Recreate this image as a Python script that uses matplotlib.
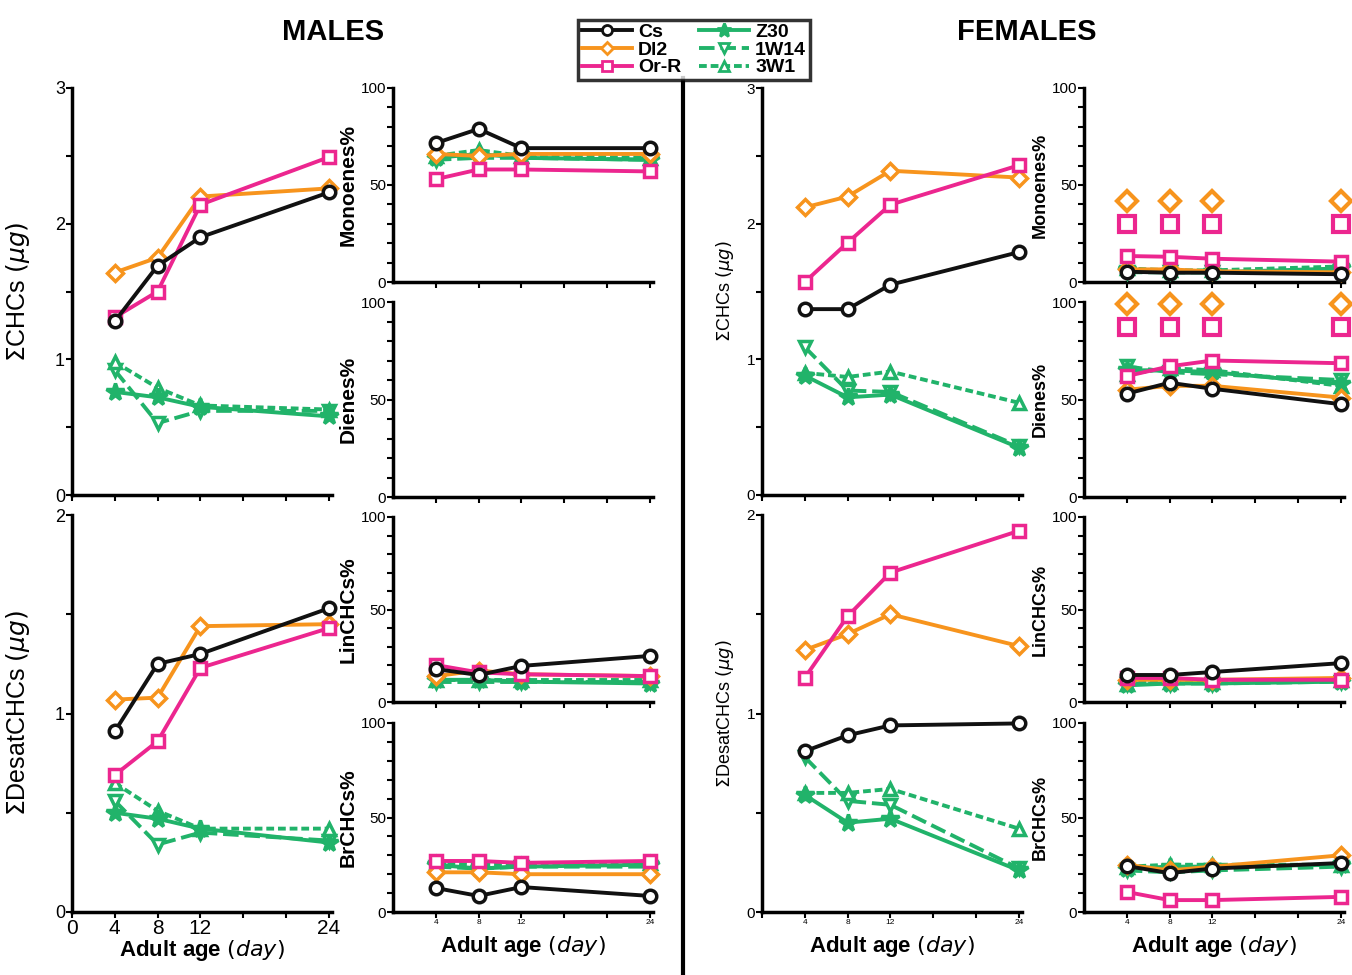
import matplotlib
matplotlib.use("Agg")
import matplotlib.pyplot as plt
from matplotlib.lines import Line2D

plt.rcParams['font.family'] = ['Liberation Sans', 'DejaVu Sans']

# -------------------------------
# data
# -------------------------------
strains = ["Cs", "Dl2", "Or-R", "Z30", "1W14", "3W1"]
age = [4, 8, 12, 24]

male_chc = {"Cs": [1.28, 1.69, 1.90, 2.23], "Dl2": [1.64, 1.75, 2.20, 2.26],
            "Or-R": [1.31, 1.50, 2.14, 2.49], "Z30": [0.76, 0.72, 0.65, 0.58],
            "1W14": [0.92, 0.53, 0.62, 0.62], "3W1": [0.98, 0.79, 0.66, 0.63]}
male_desat = {"Cs": [0.91, 1.25, 1.30, 1.53], "Dl2": [1.07, 1.08, 1.44, 1.45],
              "Or-R": [0.69, 0.86, 1.23, 1.43], "Z30": [0.50, 0.47, 0.42, 0.35],
              "1W14": [0.56, 0.34, 0.40, 0.36], "3W1": [0.65, 0.51, 0.42, 0.42]}
male_mono = {"Cs": [71.6, 78.9, 69, 69], "Dl2": [66, 65, 66, 66],
             "Or-R": [53, 58, 58, 57], "Z30": [64, 66, 64, 63],
             "1W14": [63, 64, 64, 63], "3W1": [65, 68, 65, 64]}
male_dienes = {}
male_lin = {"Cs": [17.8, 14.6, 19.5, 24.9], "Dl2": [14, 17, 15, 14],
            "Or-R": [20, 16, 15, 14], "Z30": [12, 12, 11, 10],
            "1W14": [11, 11, 11, 11], "3W1": [12, 12, 12, 12]}
male_br = {"Cs": [12.7, 8.5, 13.2, 8.5], "Dl2": [21, 21, 20, 20],
           "Or-R": [27, 27, 26, 27], "Z30": [25, 23, 24, 25],
           "1W14": [24, 23, 24, 24], "3W1": [26, 25, 25, 26]}

fem_chc = {"Cs": [1.37, 1.37, 1.55, 1.79], "Dl2": [2.12, 2.20, 2.39, 2.34],
           "Or-R": [1.57, 1.86, 2.14, 2.43], "Z30": [0.88, 0.72, 0.74, 0.35],
           "1W14": [1.09, 0.77, 0.76, 0.36], "3W1": [0.90, 0.87, 0.91, 0.68]}
fem_desat = {"Cs": [0.81, 0.89, 0.94, 0.95], "Dl2": [1.32, 1.40, 1.50, 1.34],
             "Or-R": [1.18, 1.49, 1.71, 1.92], "Z30": [0.59, 0.45, 0.47, 0.21],
             "1W14": [0.78, 0.56, 0.54, 0.22], "3W1": [0.60, 0.60, 0.62, 0.42]}
fem_mono = {"Cs": [5.3, 4.8, 4.8, 4.0], "Dl2": [6.5, 6.5, 5.5, 5.0],
            "Or-R": [13.4, 13.0, 12.0, 10.5], "Z30": [6, 5, 5, 7],
            "1W14": [5, 5, 5, 6], "3W1": [7, 6, 6, 8]}
fem_dienes = {"Cs": [53, 58.6, 55.5, 47.6], "Dl2": [55, 57, 57, 51],
              "Or-R": [62, 67, 70, 68.6], "Z30": [65, 65, 64, 58],
              "1W14": [67, 64, 63, 60], "3W1": [63, 66, 65, 57]}
fem_lin = {"Cs": [14.6, 14.6, 16.2, 21], "Dl2": [12, 12, 12, 13],
           "Or-R": [13, 13, 12, 12], "Z30": [9, 10, 10, 11],
           "1W14": [10, 10, 10, 11], "3W1": [10, 11, 11, 12]}
fem_br = {"Cs": [24.3, 20.6, 23, 25.9], "Dl2": [25, 22, 24, 30],
          "Or-R": [10.6, 6.3, 6.3, 8], "Z30": [23, 24, 24, 25],
          "1W14": [22, 21, 22, 24], "3W1": [24, 25, 25, 25]}

# significance symbols above the female percentage panels
fem_mono_sig_dl2 = [42, 42, 42, 42]
fem_mono_sig_orr = [30, 30, 30, 30]
fem_dien_sig_dl2 = [99, 99, 99, 99]
fem_dien_sig_orr = [87, 87, 87, 87]

# -------------------------------
# styles
# -------------------------------
BLACK, ORANGE, PINK, GREEN = "#111111", "#F7941D", "#EC268F", "#21B36A"
style = {
    "Cs":   dict(color=BLACK, marker="o", ls="-", mfc="white"),
    "Dl2":  dict(color=ORANGE, marker="D", ls="-", mfc="white", ms=8),
    "Or-R": dict(color=PINK, marker="s", ls="-", mfc="white"),
    "Z30":  dict(color=GREEN, marker="*", ls="-", mfc=GREEN, ms=13),
    "1W14": dict(color=GREEN, marker="v", ls=(0, (4, 1.5)), mfc="white"),
    "3W1":  dict(color=GREEN, marker="^", ls=(0, (2, 1)), mfc="white"),
}
draw_order = ["1W14", "3W1", "Z30", "Dl2", "Or-R", "Cs"]

W, H = 1352, 975
fig = plt.figure(figsize=(W / 100, H / 100), dpi=100)


def add_ax(left, top, bottom, width=260):
    return fig.add_axes([left / W, 1 - bottom / H, width / W, (bottom - top) / H])


def draw(ax, data):
    for i, s in enumerate(draw_order):
        if s not in data:
            continue
        st = dict(style[s])
        ms = st.pop("ms", 9)
        ax.plot(age, data[s], color=st["color"], marker=st["marker"], ls=st["ls"],
                mfc=st["mfc"], mec=st["color"], ms=ms, mew=2.5, lw=2.8,
                clip_on=False, zorder=3 + i)


def style_ax(ax, ymax, ystep, ylabels, big=False):
    for sp in ["top", "right"]:
        ax.spines[sp].set_visible(False)
    for sp in ["left", "bottom"]:
        ax.spines[sp].set_linewidth(2.5)
    ax.set_xlim(0, 24.3)
    ax.set_ylim(0, ymax)
    n = int(round(ymax / ystep))
    ax.set_yticks([k * ystep for k in range(n + 1)])
    ax.set_yticklabels([lab for lab in ylabels])
    ax.tick_params(axis="both", direction="out", length=4, width=1.5,
                   labelsize=13 if big else 11, pad=1)
    ax.set_xticks([4, 8, 12, 16, 20, 24] if not big else [0, 4, 8, 12, 16, 20, 24])
    ax.set_xticklabels([])


def big_labels(ymax):
    labs = []
    k = 0.0
    while k <= ymax + 1e-9:
        labs.append(str(int(k)) if abs(k - round(k)) < 1e-9 else "")
        k += 0.5
    return labs


small_labels = ["0", "", "", "", "", "50", "", "", "", "", "100"]
xlab = "Adult age " + r"$\mathit{(day)}$"

# -------------------------------
# males
# -------------------------------
ax = add_ax(72, 88, 495)
draw(ax, male_chc)
style_ax(ax, 3, 0.5, big_labels(3), big=True)
ax.set_ylabel(r"$\Sigma$CHCs " + r"$(\mathit{\mu g})$", fontsize=18)
ax.yaxis.set_label_coords(-0.155, 0.5)

ax = add_ax(72, 515, 912)
draw(ax, male_desat)
style_ax(ax, 2, 0.5, big_labels(2), big=True)
ax.set_xticklabels(["0", "4", "8", "12", "", "", "24"], fontsize=15)
ax.set_ylabel(r"$\Sigma$DesatCHCs " + r"$(\mathit{\mu g})$", fontsize=18)
ax.yaxis.set_label_coords(-0.155, 0.5)
ax.set_xlabel(xlab, fontsize=16, fontweight="bold", labelpad=0)

rows = [(88, 282), (302, 497), (517, 702), (723, 912)]
names = ["Monoenes%", "Dienes%", "LinCHCs%", "BrCHCs%"]
male_small = [male_mono, male_dienes, male_lin, male_br]
fem_small = [fem_mono, fem_dienes, fem_lin, fem_br]

for (top, bot), name, data in zip(rows, names, male_small):
    ax = add_ax(393, top, bot)
    draw(ax, data)
    style_ax(ax, 100, 10, small_labels)
    ax.set_ylabel(name, fontsize=15, fontweight="bold", labelpad=2)
    if name == "BrCHCs%":
        ax.set_xticklabels(["4", "8", "12", "", "", "24"], fontsize=6)
        ax.set_xlabel(xlab, fontsize=16, fontweight="bold", labelpad=6)

# -------------------------------
# females
# -------------------------------
ax = add_ax(762, 88, 495)
draw(ax, fem_chc)
style_ax(ax, 3, 0.5, big_labels(3), big=True)
ax.tick_params(labelsize=11)
ax.set_ylabel(r"$\Sigma$CHCs " + r"$(\mathit{\mu g})$", fontsize=13)
ax.yaxis.set_label_coords(-0.1, 0.5)

ax = add_ax(762, 515, 912)
draw(ax, fem_desat)
style_ax(ax, 2, 0.5, big_labels(2), big=True)
ax.tick_params(labelsize=11)
ax.set_xticklabels(["", "4", "8", "12", "", "", "24"], fontsize=6)
ax.set_ylabel(r"$\Sigma$DesatCHCs " + r"$(\mathit{\mu g})$", fontsize=13)
ax.yaxis.set_label_coords(-0.1, 0.5)
ax.set_xlabel(xlab, fontsize=16, fontweight="bold", labelpad=6)

for (top, bot), name, data in zip(rows, names, fem_small):
    ax = add_ax(1084, top, bot)
    draw(ax, data)
    style_ax(ax, 100, 10, small_labels)
    ax.set_ylabel(name, fontsize=13, fontweight="bold", labelpad=2)
    if name == "BrCHCs%":
        ax.set_xticklabels(["4", "8", "12", "", "", "24"], fontsize=6)
        ax.set_xlabel(xlab, fontsize=16, fontweight="bold", labelpad=6)
    if name == "Monoenes%":
        sig = [(fem_mono_sig_dl2, "Dl2"), (fem_mono_sig_orr, "Or-R")]
    elif name == "Dienes%":
        sig = [(fem_dien_sig_dl2, "Dl2"), (fem_dien_sig_orr, "Or-R")]
    else:
        sig = []
    for vals, s in sig:
        st = style[s]
        ax.plot(age, vals, ls="none", marker=st["marker"], mfc="white",
                mec=st["color"], ms=st.get("ms", 9) + 2, mew=3, clip_on=False,
                zorder=10)

# -------------------------------
# titles, legend, separator
# -------------------------------
fig.text(333 / W, 1 - 32 / H, "MALES", ha="center", va="center",
         fontsize=21, fontweight="bold")
fig.text(1027 / W, 1 - 32 / H, "FEMALES", ha="center", va="center",
         fontsize=21, fontweight="bold")

handles = []
for s in strains:
    st = dict(style[s])
    ms = st.pop("ms", 9)
    handles.append(Line2D([], [], color=st["color"], marker=st["marker"], ls=st["ls"],
                          mfc=st["mfc"], mec=st["color"], ms=ms * 0.8, mew=2, lw=2.8))
leg = fig.legend(handles, strains, ncol=2, loc="upper left",
                 bbox_to_anchor=(568 / W, 1 - 10 / H), frameon=True, fancybox=False,
                 edgecolor="black", borderpad=0.2, labelspacing=0.0,
                 handlelength=2.6, handletextpad=0.3, columnspacing=0.9,
                 prop={"weight": "bold", "size": 14})
leg.get_frame().set_linewidth(2.5)

fig.add_artist(Line2D([683 / W, 683 / W], [0, 1 - 78 / H], color="black",
                      lw=3, transform=fig.transFigure))

fig.savefig("out.png", dpi=100)
